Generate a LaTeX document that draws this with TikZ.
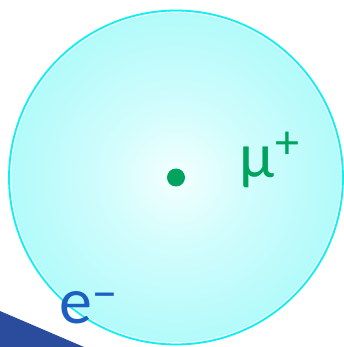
\documentclass[tikz,border=0pt]{standalone}
\usepackage{fontspec}
\setmainfont{Carlito}
\definecolor{rimcyan}{HTML}{10F0F2}
\definecolor{fillout}{HTML}{ABFAFA}
\definecolor{fillin}{HTML}{F4FFFF}
\definecolor{mugreen}{HTML}{00A35E}
\definecolor{eblue}{HTML}{1C5FC0}
\definecolor{wedgeblue}{HTML}{2B4C9C}
\pgfdeclareradialshading{atomshade}{\pgfpoint{0bp}{0bp}}{color(0bp)=(fillin); color(10bp)=(fillin!55!fillout); color(28bp)=(fillout); color(50bp)=(fillout)}
\tikzset{
  atom/.style={circle, minimum size=334pt, inner sep=0pt, draw=rimcyan, line width=1.8pt, shading=atomshade},
  nucleus/.style={circle, fill=mugreen, minimum size=18pt, inner sep=0pt},
  mulabel/.style={text=mugreen, anchor=base west, inner sep=0pt, font=\fontsize{64}{64}\selectfont},
  elabel/.style={text=eblue, anchor=base west, inner sep=0pt, font=\fontsize{66}{66}\selectfont},
}
\begin{document}
\begin{tikzpicture}[x=1pt,y=-1pt]
\useasboundingbox (0,0) rectangle (344,347);
\fill[white] (0,0) rectangle (344,347);
\fill[wedgeblue] (0,311) -- (84,347) -- (0,347) -- cycle;
\node[atom] (atom) at (176,177.5) {};
\draw[white, line width=0.7pt] (atom.center) circle (165.2pt);
\node[nucleus] (nuc) at (176,177.5) {};
\node[mulabel] (mu) at (239,178) {μ\kern1pt\raisebox{19pt}{\fontsize{48}{48}\selectfont +}};
\node[elabel] (e) at (59,323) {e\raisebox{13pt}{\fontsize{50}{50}\selectfont −}};
\end{tikzpicture}
\end{document}
